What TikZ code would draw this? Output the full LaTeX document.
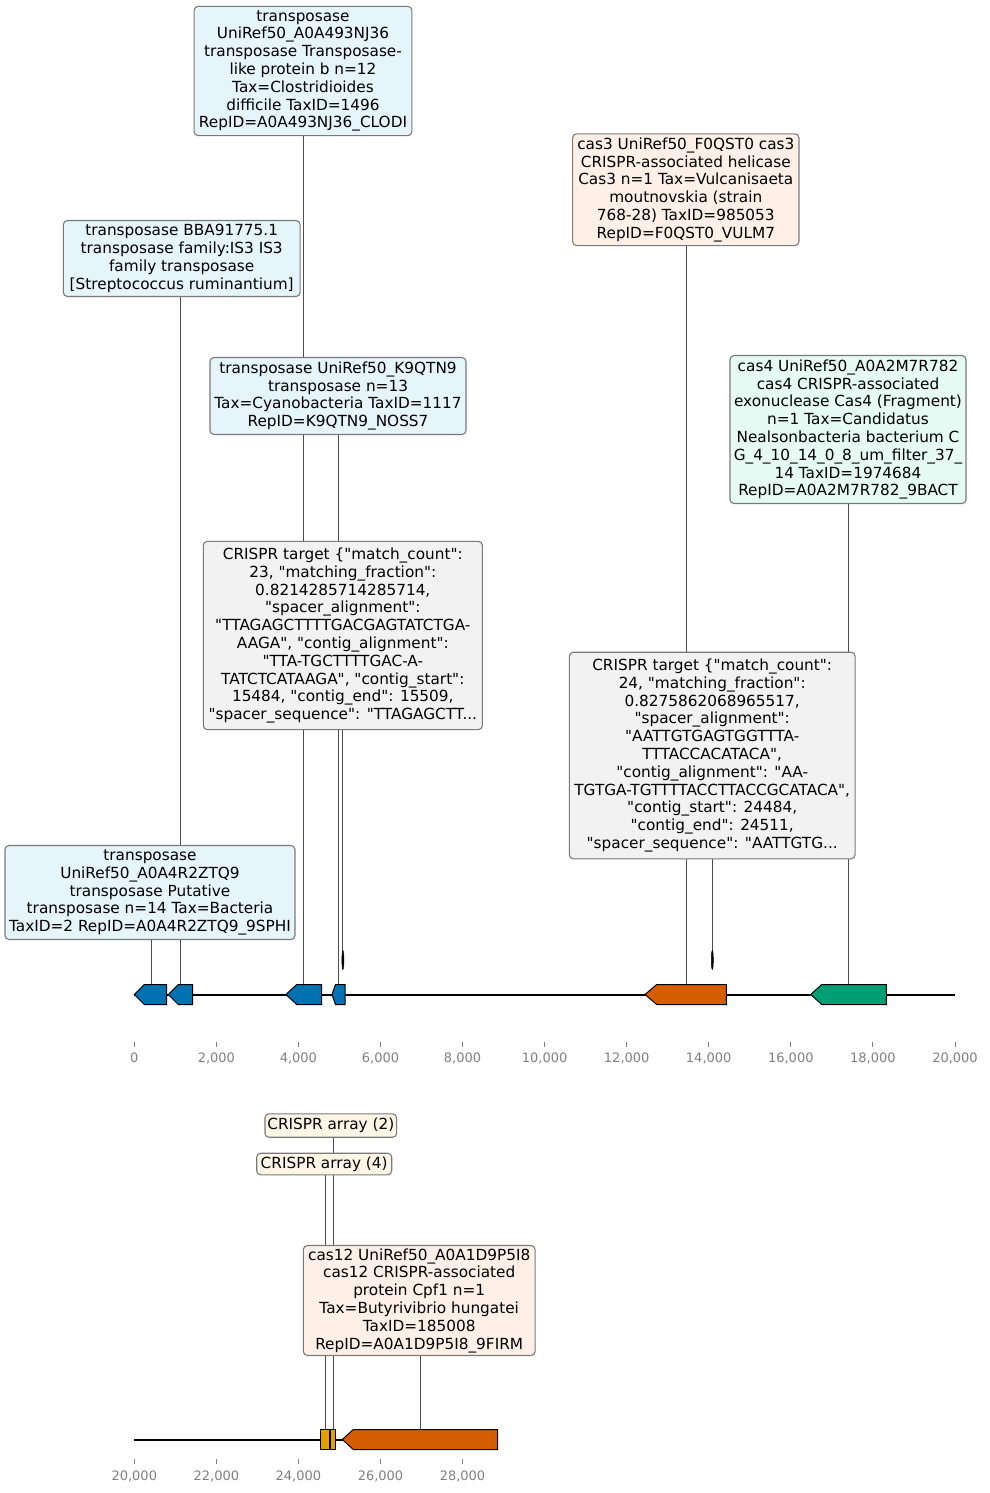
\documentclass[tikz,border=0pt]{standalone}
\usepackage{fontspec}
\setmainfont{DejaVu Sans}
\usetikzlibrary{calc}
\pgfdeclarelayer{bg}
\pgfsetlayers{bg,main}

% straight double quote, unaffected by TeX ligature mapping
\newcommand\dqt{\textquotedbl}

\definecolor{cblue}{HTML}{0072B2}
\definecolor{corange}{HTML}{D55E00}
\definecolor{cgreen}{HTML}{009E73}
\definecolor{cyellow}{HTML}{E69F00}
\definecolor{fblue}{HTML}{E6F4FC}
\definecolor{fgreen}{HTML}{E6FBF4}
\definecolor{forange}{HTML}{FEF0E6}
\definecolor{fcream}{HTML}{FDF6E6}
\definecolor{fgray}{HTML}{F2F2F2}
\definecolor{framec}{HTML}{7A7A7A}
\definecolor{stemc}{HTML}{4D4D4D}
\definecolor{tickc}{HTML}{808080}

\tikzset{
  lbl/.style={draw=framec, line width=1.1pt, rounded corners=4pt, align=center,
    font=\fontsize{15.3}{17.8}\selectfont, inner sep=1pt},
  genebody/.style={draw=black, line width=1pt, line join=miter},
  stemline/.style={draw=stemc, line width=0.9pt},
  trackline/.style={draw=black, line width=2pt},
  tickmark/.style={draw=tickc, line width=1pt},
  ticklabel/.style={text=tickc, font=\fontsize{13}{15}\selectfont, inner sep=0pt},
  spacer/.style={draw=black, fill=black, line width=0.5pt},
}

\begin{document}
\begin{tikzpicture}[x=1pt,y=-1pt]
\useasboundingbox (0,0) rectangle (989,1493);

% ---------- annotation boxes ----------
\node[lbl, fill=fblue, minimum width=217.7pt, minimum height=129.3pt] (A) at (303,71)
 {transposase\\UniRef50\_A0A493NJ36\\transposase Transposase-\\like protein b n=12\\Tax=Clostridioides\\difficile TaxID=1496\\RepID=A0A493NJ36\_CLODI};
\node[lbl, fill=fblue, minimum width=236.7pt, minimum height=76pt] (B) at (181.7,258.5)
 {transposase BBA91775.1\\transposase family:IS3 IS3\\family transposase\\{[}Streptococcus ruminantium{]}};
\node[lbl, fill=fblue, minimum width=256pt, minimum height=77pt] (C) at (338,396)
 {transposase UniRef50\_K9QTN9\\transposase n=13\\Tax=Cyanobacteria TaxID=1117\\RepID=K9QTN9\_NOSS7};
\node[lbl, fill=fgray, minimum width=279pt, minimum height=188.3pt] (D) at (342.8,635.5)
 {CRISPR target \{\dqt match\_count\dqt:\\23, \dqt matching\_fraction\dqt:\\0.8214285714285714,\\\dqt spacer\_alignment\dqt:\\\dqt TTAGAGCTTTTGACGAGTATCTGA-\\AAGA\dqt, \dqt contig\_alignment\dqt:\\\dqt TTA-TGCTTTTGAC-A-\\TATCTCATAAGA\dqt, \dqt contig\_start\dqt:\\15484, \dqt contig\_end\dqt: 15509,\\\dqt spacer\_sequence\dqt: \dqt TTAGAGCTT...};
\node[lbl, fill=fblue, minimum width=290pt, minimum height=94pt] (E) at (150,892.5)
 {transposase\\UniRef50\_A0A4R2ZTQ9\\transposase Putative\\transposase n=14 Tax=Bacteria\\TaxID=2 RepID=A0A4R2ZTQ9\_9SPHI};
\node[lbl, fill=forange, minimum width=226.3pt, minimum height=111.7pt] (F) at (685.8,189.7)
 {cas3 UniRef50\_F0QST0 cas3\\CRISPR-associated helicase\\Cas3 n=1 Tax=Vulcanisaeta\\moutnovskia (strain\\768-28) TaxID=985053\\RepID=F0QST0\_VULM7};
\node[lbl, fill=fgreen, minimum width=236pt, minimum height=148pt] (G) at (848,429.5)
 {cas4 UniRef50\_A0A2M7R782\\cas4 CRISPR-associated\\exonuclease Cas4 (Fragment)\\n=1 Tax=Candidatus\\Nealsonbacteria bacterium C\\G\_4\_10\_14\_0\_8\_um\_filter\_37\_\\14 TaxID=1974684\\RepID=A0A2M7R782\_9BACT};
\node[lbl, fill=fgray, minimum width=285.7pt, minimum height=206.6pt] (H) at (712.2,755.5)
 {CRISPR target \{\dqt match\_count\dqt:\\24, \dqt matching\_fraction\dqt:\\0.8275862068965517,\\\dqt spacer\_alignment\dqt:\\\dqt AATTGTGAGTGGTTTA-\\TTTACCACATACA\dqt,\\\dqt contig\_alignment\dqt: \dqt AA-\\TGTGA-TGTTTTACCTTACCGCATACA\dqt,\\\dqt contig\_start\dqt: 24484,\\\dqt contig\_end\dqt: 24511,\\\dqt spacer\_sequence\dqt: \dqt AATTGTG...};
\node[lbl, fill=fcream, minimum width=131.7pt, minimum height=23.4pt] (I) at (330.8,1125.5)
 {CRISPR array (2)};
\node[lbl, fill=fcream, minimum width=135pt, minimum height=21.6pt] (J) at (324.2,1164)
 {CRISPR array (4)};
\node[lbl, fill=forange, minimum width=231.7pt, minimum height=110pt] (K) at (419.2,1300.5)
 {cas12 UniRef50\_A0A1D9P5I8\\cas12 CRISPR-associated\\protein Cpf1 n=1\\Tax=Butyrivibrio hungatei\\TaxID=185008\\RepID=A0A1D9P5I8\_9FIRM};

% ---------- first track (0 - 20,000) ----------
\draw[trackline] (134.3,995) -- (955,995);
\path[genebody, fill=cblue]   (134.3,994.5) -- (144.3,984.5) -- (166.7,984.5) -- (166.7,1004.5) -- (144.3,1004.5) -- cycle;
\path[genebody, fill=cblue]   (168.3,994.5) -- (178.3,984.5) -- (192.7,984.5) -- (192.7,1004.5) -- (178.3,1004.5) -- cycle;
\path[genebody, fill=cblue]   (286,994.5) -- (296.7,984.5) -- (321.7,984.5) -- (321.7,1004.5) -- (296.7,1004.5) -- cycle;
\path[genebody, fill=cblue]   (332,994.5) -- (335.5,984.5) -- (345,984.5) -- (345,1004.5) -- (335.5,1004.5) -- cycle;
\path[genebody, fill=corange] (645,994.5) -- (656.7,984.5) -- (726.3,984.5) -- (726.3,1004.5) -- (656.7,1004.5) -- cycle;
\path[genebody, fill=cgreen]  (810.7,994.5) -- (821.7,984.5) -- (886.3,984.5) -- (886.3,1004.5) -- (821.7,1004.5) -- cycle;
% spacer targets
\draw[spacer] (342.9,960) ellipse [x radius=1, y radius=9.5];
\draw[spacer] (712.3,960) ellipse [x radius=1, y radius=9.5];

\coordinate (g1) at (151.7,984.5);
\coordinate (g2) at (180.3,984.5);
\coordinate (g3) at (303.3,984.5);
\coordinate (g4) at (338.3,984.5);
\coordinate (t1) at (342.7,950.5);
\coordinate (g5) at (686.7,984.5);
\coordinate (t2) at (712.3,950.5);
\coordinate (g6) at (848.3,984.5);

% axis
\foreach \x/\t in {134.3/0, 216.4/{2,000}, 298.4/{4,000}, 380.5/{6,000}, 462.5/{8,000},
  544.6/{10,000}, 626.7/{12,000}, 708.7/{14,000}, 790.8/{16,000}, 872.9/{18,000}, 955/{20,000}}
  {\draw[tickmark] (\x,1041.5) -- (\x,1046.5);
   \node[ticklabel] at (\x,1058) {\t};}

% ---------- second track (20,000 - 28,860) ----------
\draw[trackline] (134.3,1440) -- (498,1440);
\path[genebody, fill=cyellow] (320,1429.5) rectangle (329.5,1449.5);
\path[genebody, fill=cyellow] (330,1429.5) rectangle (335.3,1449.5);
\path[genebody, fill=corange] (342.3,1439.5) -- (353.3,1429.5) -- (497.7,1429.5) -- (497.7,1449.5) -- (353.3,1449.5) -- cycle;

\coordinate (a1) at (325.5,1429.5);
\coordinate (a2) at (333.3,1429.5);
\coordinate (g7) at (420.7,1429.5);

\foreach \x/\t in {134.3/{20,000}, 216.4/{22,000}, 298.4/{24,000}, 380.5/{26,000}, 462.5/{28,000}}
  {\draw[tickmark] (\x,1459) -- (\x,1464);
   \node[ticklabel] at (\x,1476.5) {\t};}

% ---------- connectors from features to their labels ----------
\begin{pgfonlayer}{bg}
\draw[stemline] (g1) -- (g1 |- E.south);
\draw[stemline] (g2) -- (g2 |- B.south);
\draw[stemline] (g3) -- (g3 |- A.south);
\draw[stemline] (g4) -- (g4 |- C.south);
\draw[stemline] (t1) -- (t1 |- D.south);
\draw[stemline] (g5) -- (g5 |- F.south);
\draw[stemline] (t2) -- (t2 |- H.south);
\draw[stemline] (g6) -- (g6 |- G.south);
\draw[stemline] (a1) -- (a1 |- J.south);
\draw[stemline] (a2) -- (a2 |- I.south);
\draw[stemline] (g7) -- (g7 |- K.south);
\end{pgfonlayer}
\end{tikzpicture}
\end{document}
